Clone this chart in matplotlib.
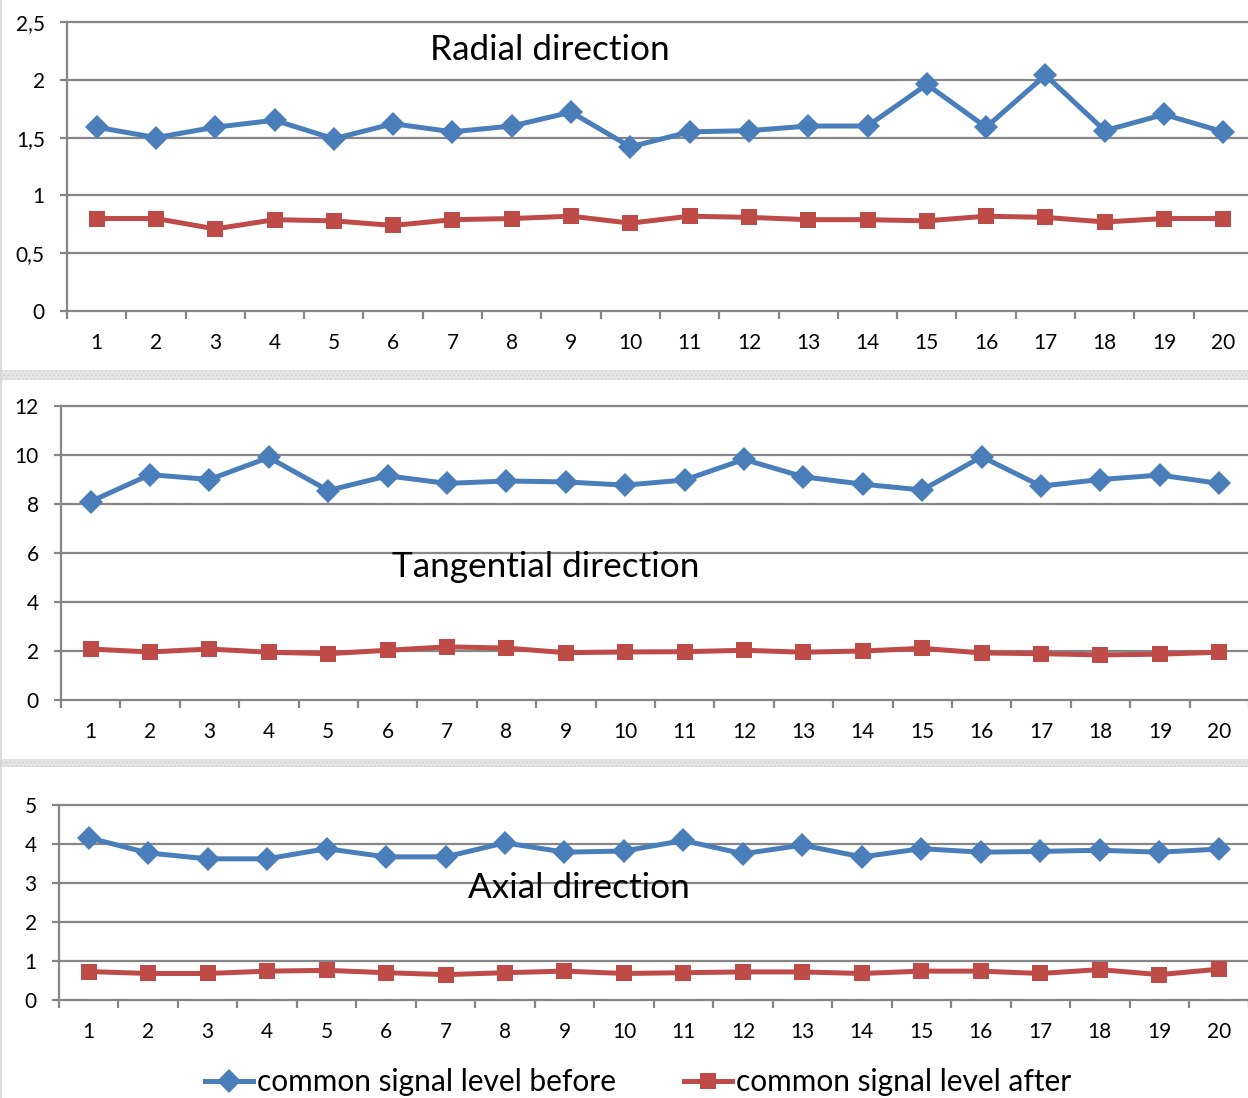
import matplotlib
matplotlib.use("Agg")
import matplotlib.pyplot as plt
from matplotlib.patches import Rectangle
from matplotlib.lines import Line2D
from matplotlib.ticker import FixedLocator, NullFormatter

plt.rcParams['font.family'] = ['Lato', 'DejaVu Sans']

# Measurement index (1..20) shared by all three panels
categories = list(range(1, 21))

# Radial direction
radial_before = [1.59, 1.50, 1.59, 1.65, 1.49, 1.62, 1.55, 1.60, 1.72, 1.42,
                 1.55, 1.56, 1.60, 1.60, 1.96, 1.59, 2.04, 1.56, 1.70, 1.55]
radial_after = [0.80, 0.80, 0.71, 0.79, 0.78, 0.74, 0.79, 0.80, 0.82, 0.76,
                0.82, 0.81, 0.79, 0.79, 0.78, 0.82, 0.81, 0.77, 0.80, 0.80]

# Tangential direction
tangential_before = [8.1, 9.2, 9.0, 9.9, 8.55, 9.15, 8.84, 8.94, 8.9, 8.77,
                     8.98, 9.82, 9.11, 8.81, 8.57, 9.93, 8.73, 9.0, 9.18, 8.84]
tangential_after = [2.08, 1.96, 2.08, 1.95, 1.89, 2.03, 2.17, 2.12, 1.93, 1.96,
                    1.97, 2.03, 1.95, 2.00, 2.11, 1.92, 1.89, 1.84, 1.87, 1.95]

# Axial direction
axial_before = [4.16, 3.77, 3.62, 3.62, 3.88, 3.67, 3.67, 4.03, 3.79, 3.82,
                4.09, 3.75, 3.97, 3.67, 3.88, 3.79, 3.81, 3.84, 3.79, 3.87]
axial_after = [0.73, 0.68, 0.68, 0.74, 0.76, 0.70, 0.65, 0.70, 0.74, 0.68,
               0.70, 0.72, 0.72, 0.68, 0.74, 0.74, 0.68, 0.78, 0.65, 0.79]

radial_yticks = [0, 0.5, 1, 1.5, 2, 2.5]
radial_ylabels = ["0", "0,5", "1", "1,5", "2", "2,5"]
tangential_yticks = [0, 2, 4, 6, 8, 10, 12]
tangential_ylabels = ["0", "2", "4", "6", "8", "10", "12"]
axial_yticks = [0, 1, 2, 3, 4, 5]
axial_ylabels = ["0", "1", "2", "3", "4", "5"]

titles = ["Radial direction", "Tangential direction", "Axial direction"]
legend_labels = ["common signal level before", "common signal level after"]

BLUE = "#4A7EBB"
RED = "#BE4B48"
GRID = "#868686"
LW = 3.6
MS_D = 12.5
MS_S = 12

W, H = 1248, 1098
fig = plt.figure(figsize=(W / 100, H / 100), dpi=100)


def rect(left, right, top, bottom):
    return [left / W, 1 - bottom / H, (right - left) / W, (bottom - top) / H]


panels = [
    dict(box=(67, 1253, 22, 311), before=radial_before, after=radial_after,
         yt=radial_yticks, yl=radial_ylabels, title_xy=(550, 50)),
    dict(box=(60.9, 1249, 406, 700), before=tangential_before, after=tangential_after,
         yt=tangential_yticks, yl=tangential_ylabels, title_xy=(546, 567)),
    dict(box=(58.9, 1248.5, 805, 1000), before=axial_before, after=axial_after,
         yt=axial_yticks, yl=axial_ylabels, title_xy=(579, 888)),
]

for p, title in zip(panels, titles):
    ax = fig.add_axes(rect(*p["box"]))
    ax.set_xlim(0.5, 20.5)
    ax.set_ylim(p["yt"][0], p["yt"][-1])
    for y in p["yt"][1:]:
        ax.axhline(y, color=GRID, lw=1.6, zorder=1, clip_on=False)
    ax.plot(categories, p["before"], color=BLUE, lw=LW, marker="D", ms=MS_D,
            markeredgewidth=0, zorder=3, clip_on=False)
    ax.plot(categories, p["after"], color=RED, lw=LW, marker="s", ms=MS_S,
            markeredgewidth=0, zorder=3, clip_on=False)
    for s in ["top", "right"]:
        ax.spines[s].set_visible(False)
    for s in ["left", "bottom"]:
        ax.spines[s].set_color(GRID)
        ax.spines[s].set_linewidth(1.6)
    ax.set_yticks(p["yt"])
    ax.set_yticklabels(p["yl"])
    ax.tick_params(axis="y", length=5, width=1.6, color=GRID, pad=11,
                   labelsize=15, labelcolor="black")
    ax.set_xticks(categories)
    ax.set_xticklabels([str(c) for c in categories])
    ax.tick_params(axis="x", which="major", length=0, pad=16, labelsize=15,
                   labelcolor="black")
    ax.xaxis.set_minor_locator(FixedLocator([c - 0.5 for c in categories] + [20.5]))
    ax.xaxis.set_minor_formatter(NullFormatter())
    ax.tick_params(axis="x", which="minor", length=6, width=1.6, color=GRID)
    ax.patch.set_alpha(0)
    fig.text(p["title_xy"][0] / W, 1 - p["title_xy"][1] / H, title,
             ha="center", va="center", fontsize=25.3, color="black")

# Separator bands between the stacked charts and the left frame edge
for top, bottom in [(370, 380), (759, 767)]:
    fig.patches.append(Rectangle((0, 1 - bottom / H), 1, (bottom - top) / H,
                                 transform=fig.transFigure, facecolor="#e4e4e4",
                                 edgecolor="#d4d4d4", hatch="....", lw=0, zorder=0))
fig.add_artist(Line2D([0.0008, 0.0008], [0, 1], transform=fig.transFigure,
                      color="#d6d6d6", lw=1.2))

handles = [
    Line2D([], [], color=BLUE, lw=LW, marker="D", ms=MS_D, markeredgewidth=0),
    Line2D([], [], color=RED, lw=LW, marker="s", ms=MS_S, markeredgewidth=0),
]
fig.legend(handles, legend_labels, loc="center", ncol=2,
           bbox_to_anchor=(638 / W, 1 - 1082 / H), frameon=False,
           fontsize=21.5, handlelength=1.6, handletextpad=0.12, columnspacing=2.3)

fig.savefig("out.png", dpi=100, facecolor="white")
